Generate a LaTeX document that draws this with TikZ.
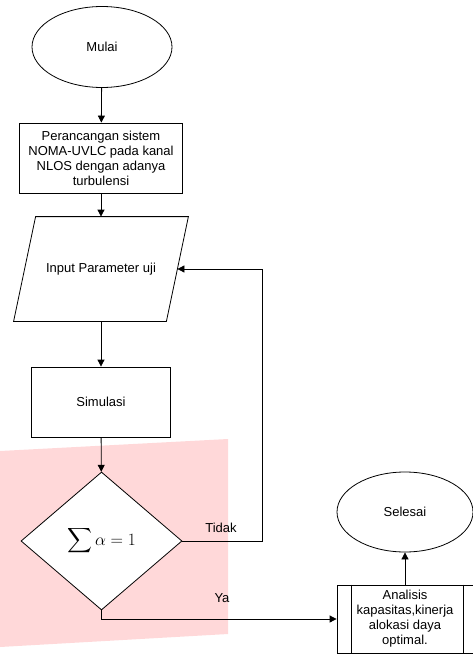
\documentclass[tikz,border=0pt]{standalone}
\usepackage{amsmath}
\usepackage{fontspec}
\setmainfont{Liberation Sans}
\usetikzlibrary{shapes.geometric,arrows.meta}
\definecolor{pinkbg}{RGB}{255,216,217}

\begin{document}
\begin{tikzpicture}[x=1pt,y=-1pt,line width=0.8pt,>={Triangle[length=7pt,width=7pt]},
  every node/.style={font=\fontsize{13}{15}\selectfont, align=center, draw, inner sep=0pt},
  term/.style={ellipse},
  proc/.style={rectangle},
  io/.style={rectangle, draw=none},
  cond/.style={diamond},
  lbl/.style={draw=none}]
  \useasboundingbox (0,0) rectangle (473,655);
  \fill[pinkbg] (0,451) -- (228,439) -- (228,634) -- (0,647) -- cycle;
  \path (102,47) node[term, minimum width=140, minimum height=81] (start){Mulai}
    (101,158) node[proc, minimum width=163, minimum height=70] (design){Perancangan sistem\\NOMA-UVLC pada kanal\\NLOS dengan adanya\\turbulensi}
    (101,269) node[io, minimum width=152, minimum height=104] (input){Input Parameter uji}
    (101,402) node[proc, minimum width=139, minimum height=70] (sim){Simulasi}
    (101.5,541) node[cond, minimum width=161, minimum height=138, fill=white] (check){\fontsize{16}{16}\selectfont$\displaystyle\sum\alpha=1$}
    (405,512) node[term, minimum width=136, minimum height=80] (stop){Selesai}
    (405,619) node[proc, minimum width=136, minimum height=68] (anal){Analisis\\kapasitas,kinerja\\alokasi daya\\optimal.}
    (221,528) node[lbl] (no){Tidak}
    (222,598) node[lbl] (yes){Ya};
  % parallelogram around the input node
  \draw ([xshift=11]input.north west) -- ([xshift=11]input.north east)
    -- ([xshift=-11]input.south east) -- ([xshift=-11]input.south west) -- cycle;
  \draw[->] (start) -- (design);
  \draw[->] (design) -- (input);
  \draw[->] (input) -- (sim);
  \draw[->] (sim) -- (check);
  \draw[->] (check.east) -- ++(80,0) |- (input.east);
  \draw[->] (check.south) |- (anal.west);
  \draw[->] (anal) -- (stop);
  \draw ([xshift=15]anal.north west) -- ([xshift=15]anal.south west)
    ([xshift=-10]anal.north east) -- ([xshift=-10]anal.south east);
\end{tikzpicture}
\end{document}
